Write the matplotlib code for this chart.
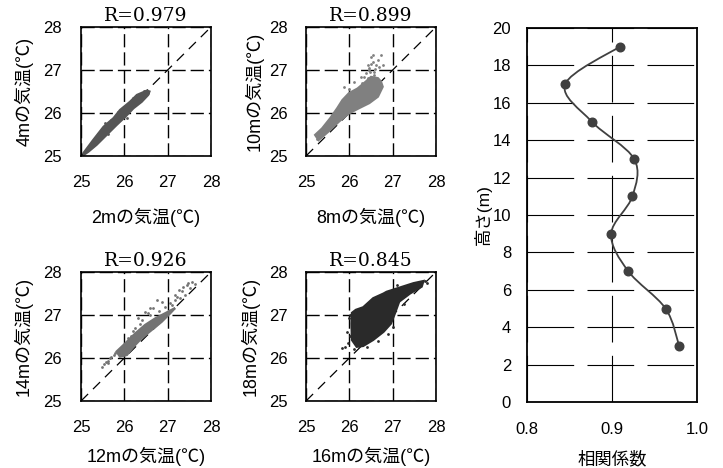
import matplotlib
matplotlib.use("Agg")
import matplotlib.pyplot as plt
from matplotlib.path import Path
from matplotlib.patches import PathPatch
import numpy as np

plt.rcParams['font.family'] = ['Liberation Sans', 'Noto Sans CJK JP', 'DejaVu Sans']

# ---------------- data ----------------
heights = [3, 5, 7, 9, 11, 13, 15, 17, 19]
corr = [0.979, 0.963, 0.919, 0.899, 0.924, 0.926, 0.876, 0.845, 0.909]

panel_R = [0.979, 0.899, 0.926, 0.845]
panel_xh = [2, 8, 12, 16]
panel_yh = [4, 10, 14, 18]
temp_ticks = [25, 26, 27, 28]

# dense scatter clouds, outline (x = lower height, y = upper height)
cloud1_x = [25.05, 25.28, 25.52, 25.75, 25.90, 26.13, 26.29, 26.52, 26.58,
            26.55, 26.40, 26.21, 26.02, 25.82, 25.59, 25.36, 25.17, 25.07]
cloud1_y = [25.06, 25.37, 25.68, 25.88, 26.07, 26.26, 26.42, 26.52, 26.50,
            26.42, 26.26, 26.11, 25.91, 25.72, 25.49, 25.26, 25.10, 25.03]
pts1_x = [25.55, 25.90, 25.86, 25.98, 26.55, 25.21, 25.70, 26.45, 25.40, 26.20,
          25.62, 26.05, 26.35, 25.30, 25.95]
pts1_y = [25.76, 26.05, 26.02, 26.03, 26.46, 25.22, 25.84, 26.50, 25.50, 26.36,
          25.52, 25.88, 26.30, 25.30, 26.10]

cloud2_x = [25.21, 25.37, 25.56, 25.72, 25.84, 25.99, 26.19, 26.38, 26.50, 26.66,
            26.73, 26.77, 26.66, 26.46, 26.22, 25.99, 25.76, 25.52, 25.29]
cloud2_y = [25.49, 25.64, 25.88, 26.11, 26.30, 26.46, 26.57, 26.73, 26.84, 26.81,
            26.73, 26.61, 26.38, 26.23, 26.11, 25.99, 25.80, 25.57, 25.37]
pts2_x = [26.50, 26.54, 26.62, 26.69, 26.42, 26.46, 26.58, 26.34, 26.62, 26.54, 26.47, 26.60,
          25.87, 26.11, 26.26, 26.38, 26.46, 26.50, 26.73, 26.66, 26.77, 26.58, 26.42, 26.69,
          25.25, 25.33, 25.30, 25.60, 26.00, 26.30]
pts2_y = [27.31, 27.19, 27.12, 27.08, 27.12, 27.00, 26.88, 26.84, 26.69, 27.35, 26.95, 27.02,
          26.61, 26.73, 26.84, 26.92, 27.04, 27.15, 27.35, 27.23, 27.12, 26.96, 26.81, 26.69,
          25.40, 25.45, 25.55, 25.95, 26.55, 26.70]

cloud3_x = [25.82, 26.02, 26.25, 26.48, 26.71, 26.94, 27.09, 27.17,
            27.06, 26.86, 26.63, 26.40, 26.21, 26.06, 25.90]
cloud3_y = [26.15, 26.34, 26.57, 26.77, 26.92, 27.04, 27.12, 27.16,
            27.04, 26.84, 26.65, 26.46, 26.26, 26.07, 26.03]
pts3_x = [25.48, 25.54, 25.62, 25.67, 25.75, 25.63, 25.58, 25.70, 25.78,
          26.09, 26.25, 26.40, 26.55, 26.67, 26.75, 26.86, 26.94, 26.32, 26.48, 26.59,
          26.15, 26.20, 26.35, 26.60, 26.80,
          27.17, 27.25, 27.36, 27.48, 27.57, 27.29, 27.17, 27.40, 27.09, 27.52, 27.06,
          27.33, 27.44, 27.62, 27.22]
pts3_y = [25.80, 25.85, 25.93, 25.99, 26.07, 25.88, 25.90, 26.02, 26.12,
          26.46, 26.69, 26.88, 27.04, 27.16, 27.35, 27.31, 27.19, 26.92, 27.08, 27.16,
          26.50, 26.62, 26.80, 27.00, 27.10,
          27.47, 27.58, 27.66, 27.74, 27.76, 27.39, 27.35, 27.47, 27.23, 27.62, 27.27,
          27.55, 27.70, 27.72, 27.42]

cloud4_x = [26.06, 26.05, 26.06, 26.15, 26.32, 26.55, 26.79, 26.86, 27.17, 27.48, 27.71,
            27.67, 27.40, 27.15, 27.06, 26.96, 26.79, 26.55, 26.32, 26.17]
cloud4_y = [26.42, 26.80, 27.05, 27.12, 27.18, 27.39, 27.50, 27.54, 27.64, 27.74, 27.79,
            27.66, 27.50, 27.31, 27.06, 26.80, 26.61, 26.42, 26.28, 26.26]
pts4_x = [25.82, 25.90, 25.98, 26.02, 26.00, 26.02, 26.29, 27.75, 27.60, 26.10, 25.95, 27.80,
          26.40, 26.65, 27.00, 27.25, 27.10, 26.90]
pts4_y = [26.23, 26.26, 26.34, 26.50, 26.92, 27.00, 26.30, 27.78, 27.72, 26.20, 26.60, 27.75,
          26.25, 26.40, 26.72, 27.25, 27.70, 26.55]

clouds = [(cloud1_x, cloud1_y, pts1_x, pts1_y),
          (cloud2_x, cloud2_y, pts2_x, pts2_y),
          (cloud3_x, cloud3_y, pts3_x, pts3_y),
          (cloud4_x, cloud4_y, pts4_x, pts4_y)]
cloud_colors = ['#555555', '#808080', '#737373', '#2a2a2a']

# ---------------- figure ----------------
W, H = 723, 468
fig = plt.figure(figsize=(W / 100, H / 100), dpi=100)

def ax_px(l, t, r, b):
    return fig.add_axes([l / W, 1 - b / H, (r - l) / W, (b - t) / H])

scatter_axes = [ax_px(81, 27, 211, 156), ax_px(306, 27, 436, 156),
                ax_px(81, 272, 211, 401), ax_px(306, 272, 436, 401)]
ylabel_x = [-0.44, -0.40, -0.445, -0.43]
xlabel_y = [-0.473, -0.473, -0.432, -0.432]

for i, ax in enumerate(scatter_axes):
    cx, cy, px, py = clouds[i]
    col = cloud_colors[i]
    ax.plot([temp_ticks[0], temp_ticks[-1]], [temp_ticks[0], temp_ticks[-1]],
            color='black', lw=0.9, dashes=(8, 5.5), zorder=1)
    ax.fill(cx, cy, color=col, lw=1.6, ec=col, zorder=3)
    ax.plot(px, py, ls='none', marker='o', ms=2.0, color=col, mew=0, zorder=3)
    ax.set_xlim(25, 28)
    ax.set_ylim(25, 28)
    ax.set_xticks(temp_ticks)
    ax.set_yticks(temp_ticks)
    ax.tick_params(length=0, pad=13.5, labelsize=12)
    ax.grid(True, color='black', lw=1.0, dashes=(9.5, 3.6), zorder=2)
    ax.set_axisbelow(False)
    for s in ax.spines.values():
        s.set_linewidth(1.2)
        s.set_zorder(5)
    ax.set_title(f"R={panel_R[i]:.3f}", family='DejaVu Serif', fontsize=13.5, pad=4.5)
    ax.set_xlabel(f"{panel_xh[i]}mの気温(℃)", fontsize=13, va='center')
    ax.set_ylabel(f"{panel_yh[i]}mの気温(℃)", fontsize=13, va='center')
    ax.xaxis.set_label_coords(0.5, xlabel_y[i])
    ax.yaxis.set_label_coords(ylabel_x[i], 0.5)

# ---------------- profile panel ----------------
axp = ax_px(527, 28, 697, 402)
axp.set_xlim(0.8, 1.0)
axp.set_ylim(0, 20)
axp.set_xticks([0.8, 0.9, 1.0])
axp.set_xticklabels(['0.8', '0.9', '1.0'])
axp.set_yticks(range(0, 21, 2))
axp.tick_params(axis='x', length=0, pad=14.5, labelsize=12)
axp.tick_params(axis='y', length=0, pad=11.5, labelsize=12)
axp.grid(True, color='black', lw=0.8, dashes=(42, 12), zorder=1)
for s in axp.spines.values():
    s.set_linewidth(1.3)

# smooth (Catmull-Rom / Bezier) line through the points
P = np.column_stack([corr, heights])
n = len(P)
verts = [tuple(P[0])]
codes = [Path.MOVETO]
for k in range(n - 1):
    p0 = P[k - 1] if k > 0 else P[k]
    p1 = P[k]
    p2 = P[k + 1]
    p3 = P[k + 2] if k + 2 < n else P[k + 1]
    c1 = p1 + (p2 - p0) / 6.0
    c2 = p2 - (p3 - p1) / 6.0
    verts += [tuple(c1), tuple(c2), tuple(p2)]
    codes += [Path.CURVE4] * 3
axp.add_patch(PathPatch(Path(verts, codes), fill=False, ec='#404040', lw=1.3, zorder=3))
axp.plot(corr, heights, ls='none', marker='o', ms=6.2, color='#404040', zorder=4)

axp.set_xlabel("相関係数", fontsize=12.5, va='center')
axp.set_ylabel("高さ(m)", fontsize=12.5, va='center')
axp.xaxis.set_label_coords(0.5, -0.152)
axp.yaxis.set_label_coords(-0.26, 0.5)

fig.savefig("out.png", dpi=100)
